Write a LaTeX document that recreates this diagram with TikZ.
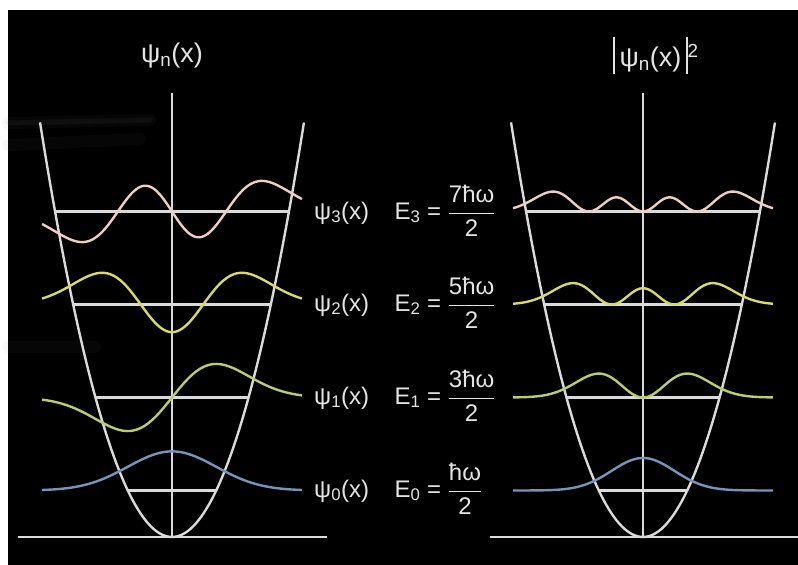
\documentclass[tikz,border=0pt]{standalone}
\usepackage{fontspec}
\setmainfont{Liberation Sans}
\usetikzlibrary{positioning}
\definecolor{LineGray}{RGB}{218,218,218}
\definecolor{TextGray}{RGB}{228,228,228}
\definecolor{PsiPink}{RGB}{236,206,196}
\definecolor{PsiYellow}{RGB}{214,216,104}
\definecolor{PsiGreen}{RGB}{184,204,112}
\definecolor{PsiBlue}{RGB}{118,148,184}
\tikzset{
	axisline/.style={draw=LineGray, line width=2.4pt},
	wave/.style={line width=2.4pt, smooth, samples=120, domain=-2.94:2.94, variable=\x},
	levellabel/.style={text=TextGray, font=\fontsize{24}{27}\selectfont, inner sep=0pt},
	titlelabel/.style={text=TextGray, font=\fontsize{27}{30}\selectfont, inner sep=0pt},
	streak/.style={line width=12pt, gray, opacity=0.05, line cap=round}
}

\begin{document}
\begin{tikzpicture}[x=1pt, y=1pt,
	declare function={
		psi0(\x)=0.7511*exp(-\x*\x/2);
		psi1(\x)=1.0622*\x*exp(-\x*\x/2);
		psi2(\x)=0.2656*(4*\x*\x-2)*exp(-\x*\x/2);
		psi3(\x)=0.1084*(8*\x*\x*\x-12*\x)*exp(-\x*\x/2);
	}]
	\useasboundingbox (0,0) rectangle (798,565);
	\fill[white] (0,0) rectangle (798,565);
	\fill[black] (8,0) rectangle (798,555);
	% faint streaks in the background
	\draw[streak] (8,442) -- (150,445);
	\draw[streak, line width=5pt, opacity=0.08] (8,442) -- (150,445);
	\draw[streak] (8,420) -- (140,426);
	\draw[streak] (8,218) -- (95,218);

	% left panel: wave functions
	\begin{scope}[shift={(172pt,28pt)}, x=44.2pt, y=93pt]
		\draw[axisline] (0,0) -- (0,4.774);
		\draw[axisline] (-3.48,0) -- (3.51,0);
		\draw[axisline, domain=-2.986:2.986, smooth, samples=60, variable=\x] plot ({\x}, {\x*\x/2});
		\draw[axisline] ({-sqrt(1)},0.5) -- ({sqrt(1)},0.5);
		\draw[axisline] ({-sqrt(3)},1.5) -- ({sqrt(3)},1.5);
		\draw[axisline] ({-sqrt(5)},2.5) -- ({sqrt(5)},2.5);
		\draw[axisline] ({-sqrt(7)},3.5) -- ({sqrt(7)},3.5);
		\draw[wave, PsiBlue] plot ({\x}, {0.5+0.56*psi0(\x)});
		\draw[wave, PsiGreen] plot ({\x}, {1.5+0.56*psi1(\x)});
		\draw[wave, PsiYellow] plot ({\x}, {2.5+0.56*psi2(\x)});
		\draw[wave, PsiPink] plot ({\x}, {3.5+0.56*psi3(\x)});
	\end{scope}

	% right panel: probability densities
	\begin{scope}[shift={(643pt,28pt)}, x=44.2pt, y=93pt]
		\draw[axisline] (0,0) -- (0,4.774);
		\draw[axisline] (-3.46,0) -- (3.6,0);
		\draw[axisline, domain=-2.986:2.986, smooth, samples=60, variable=\x] plot ({\x}, {\x*\x/2});
		\draw[axisline] ({-sqrt(1)},0.5) -- ({sqrt(1)},0.5);
		\draw[axisline] ({-sqrt(3)},1.5) -- ({sqrt(3)},1.5);
		\draw[axisline] ({-sqrt(5)},2.5) -- ({sqrt(5)},2.5);
		\draw[axisline] ({-sqrt(7)},3.5) -- ({sqrt(7)},3.5);
		\draw[wave, PsiBlue] plot ({\x}, {0.5+0.62*psi0(\x)*psi0(\x)});
		\draw[wave, PsiGreen] plot ({\x}, {1.5+0.62*psi1(\x)*psi1(\x)});
		\draw[wave, PsiYellow] plot ({\x}, {2.5+0.62*psi2(\x)*psi2(\x)});
		\draw[wave, PsiPink] plot ({\x}, {3.5+0.62*psi3(\x)*psi3(\x)});
	\end{scope}

	% titles
	\node[titlelabel] (titleL) at (172,509) {ψ\textsubscript{n}(x)};
	\node[titlelabel] (titleR) at (656,509) {\rule[-8pt]{1.8pt}{37pt}\,ψ\textsubscript{n}(x)\,\rule[-8pt]{1.8pt}{37pt}\textsuperscript{2}};

	% level labels
	\node[levellabel, anchor=west] (psiL3) at (314,352) {ψ\textsubscript{3}(x)};
	\node[levellabel, anchor=west] (psiL2) at (314,260) {ψ\textsubscript{2}(x)};
	\node[levellabel, anchor=west] (psiL1) at (314,167) {ψ\textsubscript{1}(x)};
	\node[levellabel, anchor=west] (psiL0) at (314,74) {ψ\textsubscript{0}(x)};
	\node[levellabel, base right=25pt of psiL3] (en3) {E\textsubscript{3} = $\displaystyle\frac{\mbox{7ħω}}{\mbox{2}}$};
	\node[levellabel, base right=25pt of psiL2] (en2) {E\textsubscript{2} = $\displaystyle\frac{\mbox{5ħω}}{\mbox{2}}$};
	\node[levellabel, base right=25pt of psiL1] (en1) {E\textsubscript{1} = $\displaystyle\frac{\mbox{3ħω}}{\mbox{2}}$};
	\node[levellabel, base right=25pt of psiL0] (en0) {E\textsubscript{0} = $\displaystyle\frac{\mbox{ħω}}{\mbox{2}}$};
\end{tikzpicture}
\end{document}
